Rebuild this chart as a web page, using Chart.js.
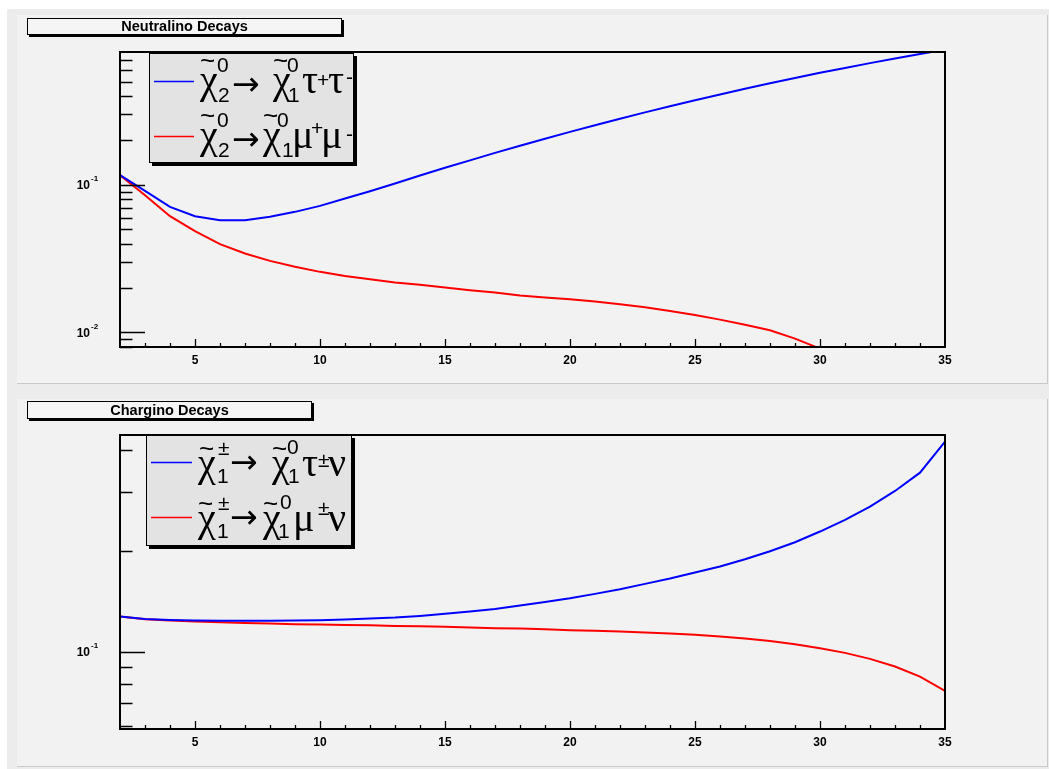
<!DOCTYPE html>
<html>
<head>
<meta charset="utf-8">
<title>Neutralino and Chargino Decays</title>
<script src="https://cdn.jsdelivr.net/npm/chart.js@4.4.1/dist/chart.umd.min.js"></script>
<style>
  html, body { margin: 0; padding: 0; background: #ffffff; width: 1049px; height: 769px; overflow: hidden; }
  #sheet { position: absolute; left: 7px; top: 9px; width: 1042px; height: 760px; background: #ececec; }
  .pad { position: absolute; left: 17px; width: 1030px; background: #f2f2f2;
         border-right: 1px solid #c9c9c9; border-bottom: 1px solid #c9c9c9; }
  .pad canvas { display: block; }
  #padTop { top: 15px; height: 368px; }
  #padBottom { top: 399px; height: 367px; }
</style>
</head>
<body>
<div id="sheet"></div>
<div class="pad" id="padTop"><canvas id="neutralino" width="1030" height="368"></canvas></div>
<div class="pad" id="padBottom"><canvas id="chargino" width="1030" height="367"></canvas></div>
<script>
// ---- data -------------------------------------------------------------
const massPoints = [2,3,4,5,6,7,8,9,10,11,12,13,14,15,16,17,18,19,20,21,22,23,24,25,26,27,28,29,30,31,32,33,34,35];

// neutralino chi2 -> chi1 tau+ tau-
const neutralinoTauTau = [0.1164,0.0911,0.0709,0.0613,0.0576,0.0576,0.0607,0.0656,0.0720,0.0808,0.0906,0.1022,0.1158,0.1305,0.1466,0.1647,0.1840,0.2053,0.2286,0.2535,0.2806,0.3101,0.3411,0.3747,0.4102,0.4484,0.4882,0.5303,0.5751,0.6208,0.6691,0.7201,0.7716,0.8254];
// neutralino chi2 -> chi1 mu+ mu-
const neutralinoMuMu = [0.1164,0.0851,0.0613,0.0485,0.0396,0.0342,0.0305,0.0278,0.0257,0.0241,0.0229,0.0218,0.0210,0.0201,0.0193,0.0186,0.0178,0.0172,0.01675,0.01615,0.01549,0.01478,0.01396,0.01311,0.01219,0.01127,0.01032,0.00906,0.00775];

// chargino chi1+- -> chi1 tau+- nu
const charginoTauNu = [0.1272,0.1252,0.1243,0.1238,0.1235,0.1235,0.1235,0.1238,0.1241,0.1246,0.1255,0.1264,0.1278,0.1296,0.1317,0.1341,0.1372,0.1407,0.1443,0.1487,0.1535,0.1593,0.1652,0.1722,0.1794,0.1887,0.1994,0.2121,0.2283,0.2472,0.2710,0.3018,0.3423,0.4236];
// chargino chi1+- -> chi1 mu+- nu
const charginoMuNu = [0.1272,0.1249,0.1238,0.1229,0.1224,0.1218,0.1212,0.1207,0.1204,0.1201,0.1199,0.1193,0.1190,0.1185,0.1179,0.1174,0.1171,0.1166,0.1158,0.1153,0.1148,0.1140,0.1132,0.1122,0.1109,0.1094,0.1076,0.1052,0.1023,0.0991,0.0951,0.0902,0.0842,0.0763];

const xTickLabels = [5,10,15,20,25,30,35];
const xRange = [2, 35];
const neutralinoYRange = [0.00795, 0.796];
const charginoYRange = [0.0587, 0.4435];
const neutralinoDecades = [0.01, 0.1];
const charginoDecades = [0.1];

// ---- helpers ------------------------------------------------------------
const BLUE = '#0000ff', RED = '#ff0000';
const SANS = '"Liberation Sans", Arial, Helvetica, sans-serif';
const LATEX_FONTS = {
  G: '40px "Liberation Serif", "DejaVu Serif", serif',   // greek letters
  S: '21px ' + SANS,                                      // scripts
  A: '33px "DejaVu Sans", sans-serif',                    // arrow
  T: '26px ' + SANS                                       // tilde accent
};

function toPoints(values) {
  return values.map((v, i) => ({ x: massPoints[i], y: v }));
}

function minorLogTicks(range) {
  const out = [];
  for (let e = -4; e <= 1; e++) {
    for (let m = 2; m <= 9; m++) {
      const v = m * Math.pow(10, e);
      if (v >= range[0] * 0.999 && v <= range[1] * 1.001) out.push(v);
    }
  }
  return out;
}

function drawBox(ctx, x, y, w, h, fill, shadow) {
  ctx.fillStyle = '#000';
  ctx.fillRect(x + shadow, y + shadow, w, h);
  ctx.fillStyle = fill;
  ctx.fillRect(x, y, w, h);
  ctx.strokeStyle = '#000';
  ctx.lineWidth = 1;
  ctx.strokeRect(x + 0.5, y + 0.5, w - 1, h - 1);
}

// ROOT-like frame, inner tick marks, exponent labels, title box and legend
function makeDecor(cfg) {
  return {
    id: 'padDecor',
    afterDatasetsDraw(chart) {
      const { ctx, chartArea: a, scales: { x, y } } = chart;
      ctx.save();
      ctx.strokeStyle = '#000';
      ctx.lineWidth = 1.3;
      ctx.beginPath();
      for (let v = xRange[0] + 1; v < xRange[1]; v++) {
        const px = Math.round(x.getPixelForValue(v)) + 0.5;
        const len = xTickLabels.includes(v) ? cfg.xMajor : cfg.xMinor;
        ctx.moveTo(px, a.bottom); ctx.lineTo(px, a.bottom - len);
      }
      cfg.decades.forEach(v => {
        const py = Math.round(y.getPixelForValue(v)) + 0.5;
        ctx.moveTo(a.left, py); ctx.lineTo(a.left + cfg.yMajor, py);
      });
      minorLogTicks(cfg.yRange).forEach(v => {
        const py = Math.round(y.getPixelForValue(v)) + 0.5;
        ctx.moveTo(a.left, py); ctx.lineTo(a.left + cfg.yMinor, py);
      });
      ctx.stroke();

      ctx.lineWidth = 2;
      ctx.strokeRect(a.left, a.top, a.right - a.left, a.bottom - a.top);

      // decade labels 10^n
      ctx.fillStyle = '#000';
      cfg.decades.forEach(v => {
        const py = y.getPixelForValue(v);
        ctx.font = 'bold 12px ' + SANS;
        ctx.textAlign = 'right';
        ctx.textBaseline = 'middle';
        ctx.fillText('10', a.left - 30, py + 1);
        ctx.font = 'bold 8px ' + SANS;
        ctx.textAlign = 'left';
        ctx.fillText(String(Math.round(Math.log10(v))), a.left - 29, py - 6);
      });
      ctx.restore();
    },
    afterDraw(chart) {
      const ctx = chart.ctx;
      ctx.save();
      const t = cfg.title;
      drawBox(ctx, t.x, t.y, t.w, t.h, '#f5f5f5', 2);
      ctx.fillStyle = '#000';
      ctx.font = 'bold 14.5px ' + SANS;
      ctx.textAlign = 'center';
      ctx.textBaseline = 'alphabetic';
      ctx.fillText(t.text, t.x + t.w / 2, t.base);

      const L = cfg.legend;
      drawBox(ctx, L.x, L.y, L.w, L.h, '#e3e3e3', 3);
      L.rows.forEach((row, i) => {
        const ds = chart.data.datasets[i];
        ctx.strokeStyle = ds.borderColor;
        ctx.lineWidth = 1.5;
        ctx.beginPath();
        ctx.moveTo(L.lineX0, row.lineY); ctx.lineTo(L.lineX1, row.lineY);
        ctx.stroke();
        ctx.fillStyle = '#000';
        ctx.textAlign = 'left';
        ctx.textBaseline = 'alphabetic';
        row.runs.forEach(([s, f, dx, dy]) => {
          ctx.font = LATEX_FONTS[f];
          ctx.fillText(s, L.textX + dx, row.base + dy);
        });
      });
      ctx.restore();
    }
  };
}

function makeChart(canvasId, series, yRange, decades, padHeight, areaTop, areaBottom, decor) {
  return new Chart(document.getElementById(canvasId), {
    type: 'line',
    data: {
      datasets: series.map(s => ({
        label: s.label,
        data: toPoints(s.values),
        borderColor: s.color,
        backgroundColor: s.color,
        borderWidth: 2,
        pointRadius: 0,
        tension: 0,
        fill: false,
        clip: 0
      }))
    },
    options: {
      responsive: false,
      animation: false,
      events: [],
      layout: { padding: { top: areaTop, right: 102, left: 0, bottom: 0 } },
      plugins: { legend: { display: false }, title: { display: false }, tooltip: { enabled: false } },
      scales: {
        x: {
          type: 'linear',
          min: xRange[0], max: xRange[1],
          afterBuildTicks: s => { s.ticks = xTickLabels.map(v => ({ value: v })); },
          afterFit: s => { s.height = padHeight - areaBottom; },
          grid: { display: false, drawTicks: false },
          border: { display: false },
          ticks: { color: '#000', padding: 6, autoSkip: false, maxRotation: 0,
                   font: { family: SANS, size: 12, weight: 'bold' } }
        },
        y: {
          type: 'logarithmic',
          min: yRange[0], max: yRange[1],
          afterFit: s => { s.width = 103; },
          grid: { display: false, drawTicks: false },
          border: { display: false },
          ticks: { display: false }
        }
      }
    },
    plugins: [makeDecor(Object.assign({ yRange, decades }, decor))]
  });
}

makeChart('neutralino', [
  { label: 'chi2 -> chi1 tau tau', values: neutralinoTauTau, color: BLUE },
  { label: 'chi2 -> chi1 mu mu', values: neutralinoMuMu, color: RED }
], neutralinoYRange, neutralinoDecades, 368, 37, 332, {
  xMajor: 8, xMinor: 4, yMajor: 25, yMinor: 12.5,
  title: { text: 'Neutralino Decays', x: 10, y: 3, w: 315, h: 17, base: 15.5 },
  legend: {
    x: 132, y: 38, w: 205, h: 110, lineX0: 137, lineX1: 177, textX: 183,
    rows: [
      { lineY: 66.5, base: 78, runs: [
        ['χ','G',0,0],['~','T',0,-24],['0','S',17,-21],['2','S',18,9],['→','A',32,2],
        ['χ','G',73,0],['~','T',73,-24],['0','S',87,-21],['1','S',88,9],
        ['τ','G',102,0],['+','S',117,-6],['τ','G',128,0],['-','S',146,-9]] },
      { lineY: 121.5, base: 133, runs: [
        ['χ','G',0,0],['~','T',0,-24],['0','S',17,-21],['2','S',18,9],['→','A',32,2],
        ['χ','G',63,0],['~','T',63,-24],['0','S',77,-21],['1','S',82,9],
        ['μ','G',92,0],['+','S',111,-13],['μ','G',121,0],['-','S',146,-7]] }
    ]
  }
});

makeChart('chargino', [
  { label: 'chi1 -> chi1 tau nu', values: charginoTauNu, color: BLUE },
  { label: 'chi1 -> chi1 mu nu', values: charginoMuNu, color: RED }
], charginoYRange, charginoDecades, 367, 36, 330, {
  xMajor: 8, xMinor: 4, yMajor: 25, yMinor: 12.5,
  title: { text: 'Chargino Decays', x: 10, y: 2, w: 285, h: 18, base: 15.5 },
  legend: {
    x: 129, y: 36, w: 206, h: 111, lineX0: 134, lineX1: 175, textX: 181,
    rows: [
      { lineY: 63.5, base: 77, runs: [
        ['χ','G',0,0],['~','T',1,-19],['±','S',20,-21],['1','S',19,7],['→','A',32,-3],
        ['χ','G',74,0],['~','T',74,-19],['0','S',89,-22],['1','S',90,7],
        ['τ','G',104,0],['±','S',120,-9],['ν','G',130,0]] },
      { lineY: 118.5, base: 132, runs: [
        ['χ','G',0,0],['~','T',0,-19],['±','S',20,-21],['1','S',19,7],['→','A',32,-3],
        ['χ','G',65,0],['~','T',65,-19],['0','S',82,-22],['1','S',80,7],
        ['μ','G',95,0],['±','S',120,-16],['ν','G',130,0]] }
    ]
  }
});
</script>
</body>
</html>
